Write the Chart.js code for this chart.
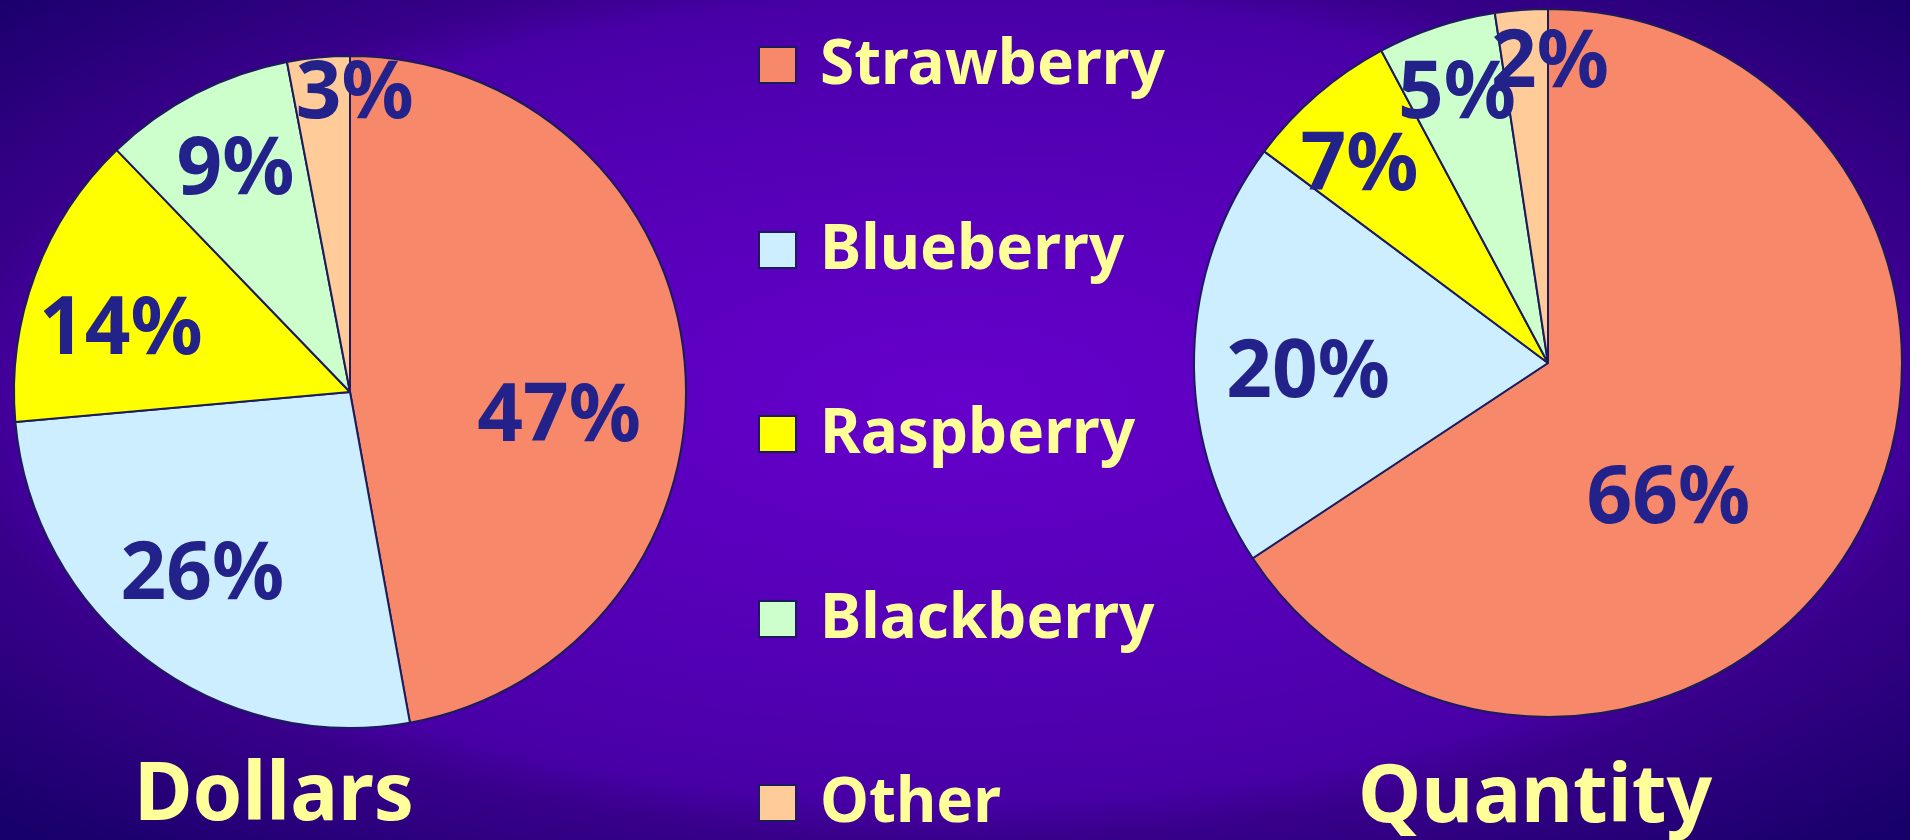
<!DOCTYPE html>
<html>
<head>
<meta charset="utf-8">
<script src="https://cdn.jsdelivr.net/npm/chart.js@4"></script>
<style>
  html, body {
    margin: 0;
    padding: 0;
    width: 1910px;
    height: 840px;
    overflow: hidden;
  }
  body {
    position: relative;
    font-family: "Noto Sans", "DejaVu Sans", sans-serif;
    background: radial-gradient(ellipse 955px 420px at 955px 400px,
      #6600cc 0%, #5000b0 75%, #4800a6 95%, #38008a 105%, #18006a 141%);
  }
  .pie { position: absolute; }
  .legend-row {
    position: absolute;
    left: 758px;
    height: 60px;
    display: flex;
    align-items: center;
  }
  .legend-row .swatch {
    width: 35px;
    height: 34px;
    border: 2px solid #1c1c5c;
  }
  .legend-row .text {
    margin-left: 23px;
    font-size: 62px;
    font-weight: bold;
    line-height: 1;
    color: #ffff99;
    position: relative;
    top: -5px;
  }
  .title {
    position: absolute;
    width: 500px;
    text-align: center;
    font-size: 80px;
    font-weight: bold;
    line-height: 1;
    color: #ffff99;
  }
</style>
</head>
<body>
<div class="pie" style="left:0;top:0;width:700px;height:784px"><canvas id="dollarsChart"></canvas></div>
<div class="pie" style="left:1186px;top:0;width:724px;height:726px"><canvas id="quantityChart"></canvas></div>
<div id="legend"></div>
<div class="title" style="left:24px;top:749px">Dollars</div>
<div class="title" style="left:1285px;top:751px">Quantity</div>

<script>
// Data (share of total, %)
const fruits = ['Strawberry', 'Blueberry', 'Raspberry', 'Blackberry', 'Other'];
const dollarShares = [47.1, 26.4, 14.2, 9.2, 3.0];
const quantityShares = [65.7, 19.5, 7.0, 5.4, 2.4];

const fruitColors = ['#f7886a', '#cceeff', '#ffff00', '#ccffcc', '#ffcc99'];

// Percent labels drawn inside each slice
const sliceLabels = {
    id: 'sliceLabels',
    afterDatasetsDraw(chart, args, opts) {
        const ctx = chart.ctx;
        const values = chart.data.datasets[0].data;
        const size = opts.size;
        ctx.save();
        ctx.font = 'bold ' + size + 'px "Noto Sans", sans-serif';
        ctx.fillStyle = opts.color;
        ctx.textAlign = 'center';
        ctx.textBaseline = 'alphabetic';
        chart.getDatasetMeta(0).data.forEach((arc, i) => {
            const p = arc.getProps(['x', 'y', 'startAngle', 'endAngle', 'outerRadius'], true);
            const angle = (p.startAngle + p.endAngle) / 2 + opts.shift[i] * Math.PI / 180;
            const r = p.outerRadius * opts.radius[i];
            const x = p.x + Math.cos(angle) * r;
            const y = p.y + Math.sin(angle) * r + size * 0.36;
            ctx.fillText(Math.round(values[i]) + '%', x, y);
        });
        ctx.restore();
    }
};

function makePie(canvasId, shares, radius, labelRadius, labelShift) {
    const ctx = document.getElementById(canvasId).getContext('2d');
    return new Chart(ctx, {
        type: 'pie',
        data: {
            labels: fruits,
            datasets: [{
                data: shares,
                backgroundColor: fruitColors,
                borderColor: '#1c1c5c',
                borderWidth: 2,
                radius: radius
            }]
        },
        options: {
            responsive: true,
            maintainAspectRatio: false,
            animation: false,
            layout: { padding: 0 },
            plugins: {
                legend: { display: false },
                tooltip: { enabled: false },
                sliceLabels: {
                    size: 80,
                    color: '#22228a',
                    radius: labelRadius,
                    shift: labelShift
                }
            }
        },
        plugins: [sliceLabels]
    });
}

makePie('dollarsChart', dollarShares, 336,
    [0.625, 0.69, 0.71, 0.756, 0.9], [10.7, 2.3, -4.3, 0.6, 6.3]);
makePie('quantityChart', quantityShares, 354,
    [0.504, 0.678, 0.78, 0.816, 0.86], [19.3, -2.9, -2.4, 0, 4.7]);

// Shared legend in the middle
const legend = document.getElementById('legend');
fruits.forEach((name, i) => {
    const row = document.createElement('div');
    row.className = 'legend-row';
    row.style.top = (65 + i * 184.5 - 30) + 'px';
    row.innerHTML = '<div class="swatch" style="background:' + fruitColors[i] + '"></div>' +
        '<div class="text">' + name + '</div>';
    legend.appendChild(row);
});
</script>
</body>
</html>
